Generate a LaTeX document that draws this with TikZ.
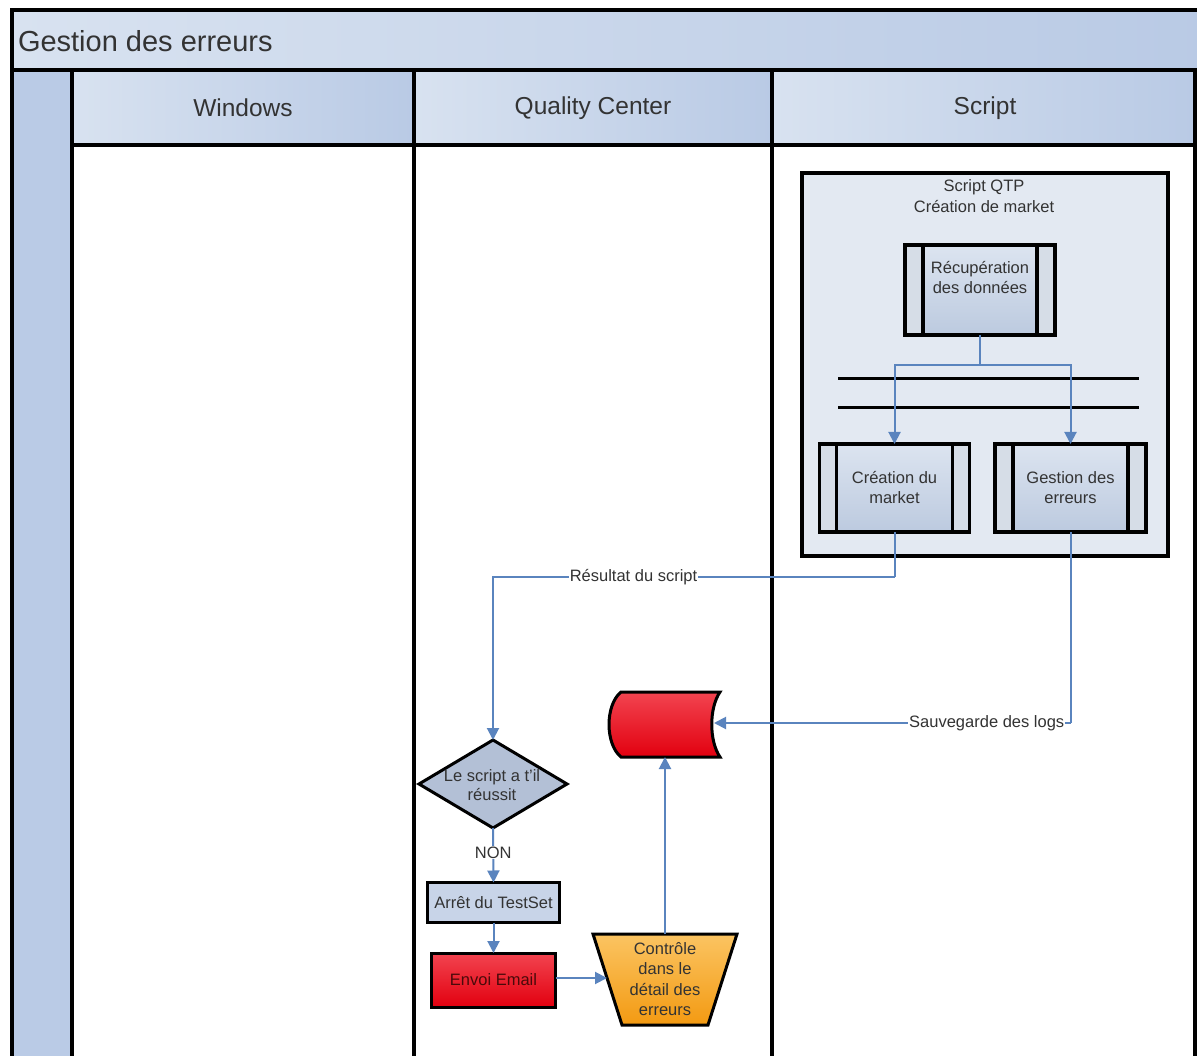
\documentclass[tikz,border=0pt]{standalone}
\usepackage{fontspec}
\setmainfont{Liberation Sans}
\usetikzlibrary{shapes.geometric,arrows.meta}
\definecolor{hdrL}{HTML}{D8E2F0}
\definecolor{hdrR}{HTML}{B9CAE5}
\definecolor{sideb}{HTML}{BACBE6}
\definecolor{contf}{HTML}{E3E9F2}
\definecolor{procT}{HTML}{DCE4F0}
\definecolor{procB}{HTML}{BCCADF}
\definecolor{procS}{HTML}{D6DDE7}
\definecolor{diaf}{HTML}{B3C0D6}
\definecolor{arrf}{HTML}{C8D4E8}
\definecolor{redT}{HTML}{F24450}
\definecolor{redB}{HTML}{E2000F}
\definecolor{redtxt}{HTML}{4A0A0A}
\definecolor{orT}{HTML}{FBC462}
\definecolor{orB}{HTML}{F39A12}
\definecolor{conn}{HTML}{5A84BE}
\definecolor{txt}{HTML}{333333}
\begin{document}
\begin{tikzpicture}[x=1pt,y=-1pt,
  every node/.style={inner sep=0pt, outer sep=0pt},
  band/.style={draw=black, line width=3.5pt, left color=hdrL, right color=hdrR, anchor=north west},
  lanebody/.style={draw=black, line width=3.5pt, fill=white, anchor=north west},
  hdrtext/.style={font=\fontsize{24.5}{28}\selectfont, text=txt},
  ptext/.style={font=\fontsize{16.5}{20}\selectfont, text=txt, align=center},
  proc/.style={draw=black, line width=3.5pt, fill=procS},
  procinner/.style={draw=black, line width=3.5pt, top color=procT, bottom color=procB},
  flow/.style={draw=conn, line width=2pt, -{Triangle[length=12pt,width=12pt]}},
  plain/.style={draw=conn, line width=2pt},
  lbl/.style={fill=white, inner xsep=1pt, inner ysep=2pt, font=\fontsize{16.5}{20}\selectfont, text=txt},
  bar/.style={draw=black, line width=3pt}
]
\useasboundingbox (0,0) rectangle (1197,1056);

% lanes
\node[lanebody, minimum width=342, minimum height=930] (lw) at (72,145) {};
\node[lanebody, minimum width=358, minimum height=930] (lq) at (414,145) {};
\node[lanebody, minimum width=423, minimum height=930] (ls) at (772,145) {};
\node[draw=black, line width=3.5pt, fill=sideb, anchor=north west, minimum width=60, minimum height=1010] (side) at (12,70) {};
\node[band, minimum width=1200, minimum height=60] (title) at (12,10) {};
\node[band, minimum width=342, minimum height=75] (hw) at (72,70) {};
\node[band, minimum width=358, minimum height=75] (hq) at (414,70) {};
\node[band, minimum width=423, minimum height=75] (hs) at (772,70) {};
\node[font=\fontsize{29}{33}\selectfont, text=txt, anchor=west] (titlet) at (18,41) {Gestion des erreurs};
\node[hdrtext] (hwt) at (243,108) {Windows};
\node[hdrtext] (hqt) at (593,108) {Quality Center};
\node[hdrtext] (hst) at (985,108) {Script};

% container
\node[draw=black, line width=3.5pt, fill=contf, anchor=north west, minimum width=366, minimum height=383] (qtp) at (802,173) {};
\node[ptext, font=\fontsize{16.5}{21}\selectfont] (qtpt) at (984,196) {Script QTP\\Création de market};

% process boxes
\node[proc, minimum width=150, minimum height=90] (rec) at (980,290) {};
\draw[procinner] ([xshift=18pt]rec.north west) rectangle ([xshift=-18pt]rec.south east);
\node[ptext] (rect) at (980,278) {Récupération\\des données};

\node[proc, minimum width=150, minimum height=88] (cdm) at (894.5,488) {};
\draw[procinner] ([xshift=17pt]cdm.north west) rectangle ([xshift=-17pt]cdm.south east);
\node[ptext] (cdmt) at (894.5,488) {Création du\\market};

\node[proc, minimum width=151, minimum height=88] (gde) at (1070.5,488) {};
\draw[procinner] ([xshift=18pt]gde.north west) rectangle ([xshift=-18pt]gde.south east);
\node[ptext] (gdet) at (1070.5,488) {Gestion des\\erreurs};

% parallel bars
\draw[bar] (838,379) -- (1139,379);
\draw[bar] (838,408) -- (1139,408);

% split connector
\coordinate (split) at (980,365);
\draw[plain] (rec.south) -- (split);
\draw[flow] (split) -| (cdm.north);
\draw[flow] (split) -| (gde.north);

% decision
\node[diamond, draw=black, line width=3pt, fill=diaf, minimum width=148, minimum height=88] (dia) at (493,784) {};
\node[ptext, font=\fontsize{16.5}{19}\selectfont] (diat) at (492,785) {Le script a t'il\\réussit};

% Arret
\node[draw=black, line width=3pt, fill=arrf, minimum width=132, minimum height=40] (arr) at (493.5,902.5) {};
\node[ptext] (arrt) at (493.5,903) {Arrêt du TestSet};

% Envoi Email
\node[draw=black, line width=3pt, top color=redT, bottom color=redB, minimum width=124, minimum height=54] (env) at (493.5,980) {};
\node[ptext, text=redtxt] (envt) at (493.5,980) {Envoi Email};

% trapezoid (manual operation)
\draw[draw=black, line width=3pt, top color=orT, bottom color=orB]
  (593,934) -- (737,934) -- (708,1025) -- (622,1025) -- cycle;
\node[minimum width=144, minimum height=91] (trap) at (665,979.5) {};
\node[ptext, font=\fontsize{16.5}{20.5}\selectfont] (trapt) at (665,979) {Contrôle\\dans le\\détail des\\erreurs};
\coordinate (trapL) at (607,978);

% stored data
\node[minimum width=108, minimum height=65] (data) at (665,724.5) {};
\draw[draw=black, line width=3pt, top color=redT, bottom color=redB]
  (621,692) -- (720,692) .. controls (709,708) and (709,741) .. (720,757)
  -- (621,757) .. controls (605,744) and (605,705) .. (621,692) -- cycle;
\coordinate (dataR) at (714,723);

% connectors
\coordinate (c1) at (894.5,577);
\coordinate (c2) at (493,577);
\draw[plain] (cdm.south) -- (c1);
\draw[flow] (c1) -- node[lbl, pos=0.65] (lres) {Résultat du script} (c2) -- (dia.north);

\coordinate (g1) at (1070.5,723);
\draw[plain] (gde.south) -- (g1);
\draw[flow] (g1) -- node[lbl, pos=0.235] (lsav) {Sauvegarde des logs} (dataR);

\draw[flow] (dia.south) -- node[lbl, pos=0.45, inner ysep=1pt] (lnon) {NON} (arr.north);
\draw[flow] (arr.south) -- (env.north);
\draw[flow] (env.east |- trapL) -- (trapL);
\draw[flow] (trap.north) -- (data.south);
\end{tikzpicture}
\end{document}
